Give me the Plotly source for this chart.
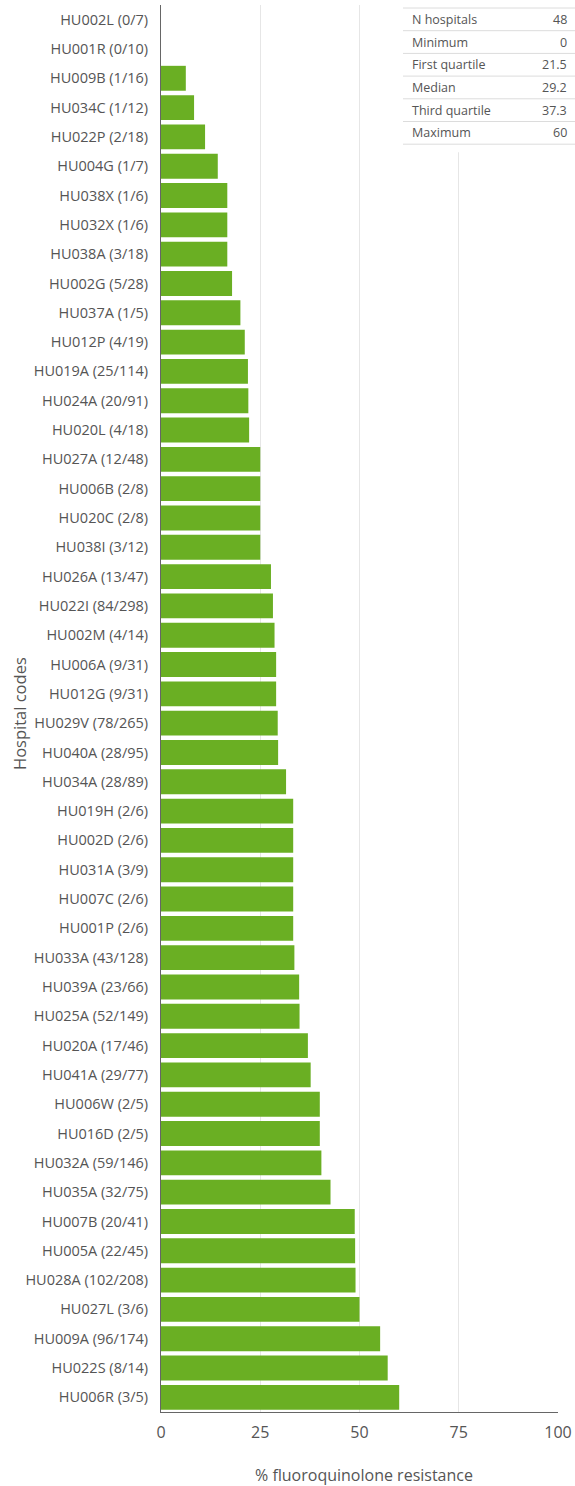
import plotly.graph_objects as go

hospitals = ["HU002L (0/7)", "HU001R (0/10)", "HU009B (1/16)", "HU034C (1/12)", "HU022P (2/18)",
             "HU004G (1/7)", "HU038X (1/6)", "HU032X (1/6)", "HU038A (3/18)", "HU002G (5/28)",
             "HU037A (1/5)", "HU012P (4/19)", "HU019A (25/114)", "HU024A (20/91)", "HU020L (4/18)",
             "HU027A (12/48)", "HU006B (2/8)", "HU020C (2/8)", "HU038I (3/12)", "HU026A (13/47)",
             "HU022I (84/298)", "HU002M (4/14)", "HU006A (9/31)", "HU012G (9/31)", "HU029V (78/265)",
             "HU040A (28/95)", "HU034A (28/89)", "HU019H (2/6)", "HU002D (2/6)", "HU031A (3/9)",
             "HU007C (2/6)", "HU001P (2/6)", "HU033A (43/128)", "HU039A (23/66)", "HU025A (52/149)",
             "HU020A (17/46)", "HU041A (29/77)", "HU006W (2/5)", "HU016D (2/5)", "HU032A (59/146)",
             "HU035A (32/75)", "HU007B (20/41)", "HU005A (22/45)", "HU028A (102/208)", "HU027L (3/6)",
             "HU009A (96/174)", "HU022S (8/14)", "HU006R (3/5)"]
resistance = [0, 0, 6.25, 8.33, 11.1, 14.3, 16.7, 16.7, 16.7, 17.9,
              20.0, 21.1, 21.9, 22.0, 22.2, 25.0, 25.0, 25.0, 25.0, 27.7,
              28.2, 28.6, 29.0, 29.0, 29.4, 29.5, 31.5, 33.3, 33.3, 33.3,
              33.3, 33.3, 33.6, 34.8, 34.9, 37.0, 37.7, 40.0, 40.0, 40.4,
              42.7, 48.8, 48.9, 49.0, 50.0, 55.2, 57.1, 60.0]
stat_labels = ["N hospitals", "Minimum", "First quartile", "Median", "Third quartile", "Maximum"]
stat_values = ["48", "0", "21.5", "29.2", "37.3", "60"]
x_ticks = [0, 25, 50, 75, 100]

FONT = "'Open Sans', sans-serif"
TXT = "#555555"
W, H = 575, 1486
L, R, T, B = 161, 17, 5, 74
pw, ph = W - L - R, H - T - B

def px(x):
    return (x - L) / pw

def py(y):
    return (H - B - y) / ph

fig = go.Figure(go.Bar(
    x=resistance, y=hospitals, orientation="h",
    marker=dict(color="#6AAF23", line=dict(width=0)),
    hoverinfo="x+y",
))

fig.update_layout(
    width=W, height=H,
    margin=dict(l=L, r=R, t=T, b=B),
    paper_bgcolor="white", plot_bgcolor="white",
    bargap=0.15,
    showlegend=False,
    font=dict(family=FONT, color=TXT, size=14),
    xaxis=dict(range=[0, 100], tickvals=x_ticks, showgrid=True, gridcolor="#e6e6e6",
               gridwidth=1, zeroline=False, showline=True, linecolor="#666666", linewidth=1,
               ticks="", ticklabelstandoff=6, tickfont=dict(size=16, color=TXT),
               automargin=False, fixedrange=True),
    yaxis=dict(autorange="reversed", showgrid=False, zeroline=False, showline=True,
               linecolor="#666666", linewidth=1, ticks="", ticklabelstandoff=9,
               tickfont=dict(size=14.5, color=TXT), automargin=False, fixedrange=True),
)

# axis titles
fig.add_annotation(text="% fluoroquinolone resistance", xref="paper", yref="paper",
                   x=px(364), y=py(1475), xanchor="center", yanchor="middle", showarrow=False,
                   font=dict(size=16, color=TXT, family=FONT))
fig.add_annotation(text="Hospital codes", xref="paper", yref="paper",
                   x=px(19), y=py(714), xanchor="center", yanchor="middle", showarrow=False,
                   textangle=-90, font=dict(size=16.5, color=TXT, family=FONT))

# summary table
tl, tr = 403, 575
top, rh = 8, 22.7
fig.add_shape(type="rect", xref="paper", yref="paper", x0=px(tl), x1=px(tr),
              y0=py(top + rh * len(stat_labels) + 8), y1=py(top - 4),
              fillcolor="white", line=dict(width=0), layer="above")
for i in range(len(stat_labels) + 1):
    yy = top + rh * i
    fig.add_shape(type="line", xref="paper", yref="paper", x0=px(tl), x1=px(tr),
                  y0=py(yy), y1=py(yy), line=dict(color="#dcdcdc", width=1), layer="above")
for i, (lab, val) in enumerate(zip(stat_labels, stat_values)):
    yc = top + rh * (i + 0.5)
    fig.add_annotation(text=lab, xref="paper", yref="paper", x=px(tl + 7), y=py(yc),
                       xanchor="left", yanchor="middle", showarrow=False,
                       font=dict(size=12.5, color=TXT, family=FONT))
    fig.add_annotation(text=val, xref="paper", yref="paper", x=px(tr - 6), y=py(yc),
                       xanchor="right", yanchor="middle", showarrow=False,
                       font=dict(size=12.5, color=TXT, family=FONT))

fig.write_html("out.html", config={"displayModeBar": False},
               post_script="document.body.style.margin='0';")
